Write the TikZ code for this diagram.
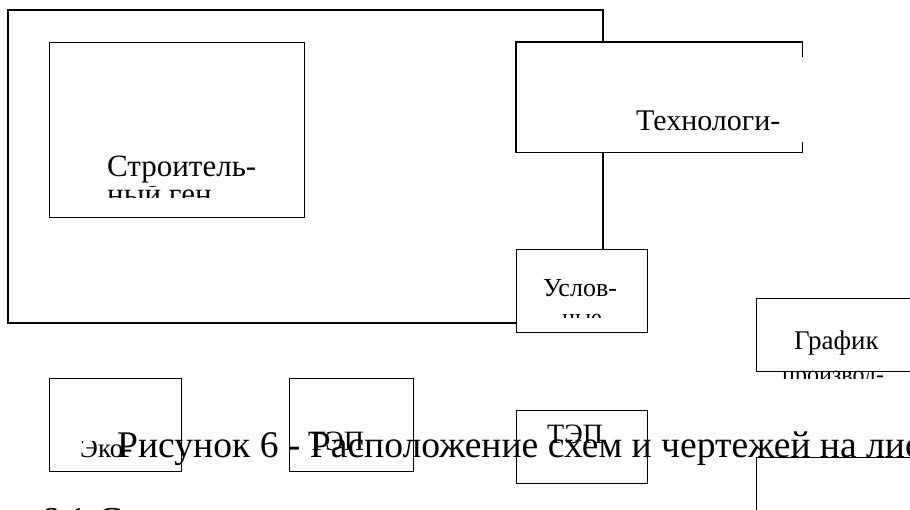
\documentclass[tikz,border=0pt]{standalone}
\usepackage{fontspec}
\setmainfont{Liberation Serif}
\newcommand{\fs}[1]{\fontsize{#1}{1.2\dimexpr#1pt\relax}\selectfont}

\tikzset{
  frame/.style={draw=black, line width=1.3pt},
  sheet/.style={frame, inner sep=0pt, anchor=north west},
  lbl/.style={inner sep=0pt, anchor=base west},
}

\begin{document}
\begin{tikzpicture}[x=1pt,y=-1pt]
	%%%%% START %%%%%
	\clip (0,0) rectangle (910,509);
	
	% sheets on the drawing
	\node[sheet, minimum width=255pt, minimum height=175pt] (stroy) at (49,42) {};
	\node[inner sep=0pt, anchor=north west, minimum width=286pt, minimum height=110pt] (tech) at (516,42) {};
	\node[sheet, minimum width=131pt, minimum height=83pt] (usl) at (516,249) {};
	\node[sheet, minimum width=200pt, minimum height=73pt] (graf) at (756,298) {};
	\node[sheet, minimum width=132pt, minimum height=93pt] (eko) at (49,378) {};
	\node[sheet, minimum width=124pt, minimum height=93pt] (tep) at (289,378) {};
	\node[sheet, minimum width=131pt, minimum height=73pt] (tepb) at (516,410) {};
	\node[sheet, minimum width=200pt, minimum height=100pt] (plan) at (756,457) {};
	
	% outer frame and link
	\coordinate (link) at (603,10);
	\coordinate (corner) at (8,323);
	\draw[frame] (corner -| usl.west) -- (corner) |- (link) -- (link |- tech.north);
	\draw[frame] (link |- tech.south) -- (link |- usl.north);
	\draw[frame] ([yshift=-15pt]tech.north east) -- (tech.north east) -- (tech.north west)
		-- (tech.south west) -- (tech.south east) -- ([yshift=10pt]tech.south east);
	
	% labels
	\node[lbl, font=\fs{31}] (stroyA) at (107,176) {Строитель-};
	\begin{scope}
		\clip (100,186) rectangle (210,197);
		\node[lbl, font=\fs{31}] (stroyB) at (107,204) {ный генплан};
	\end{scope}
	
	\node[lbl, font=\fs{30}] (techA) at (636,130) {Технологи-};
	
	\node[lbl, font=\fs{26}] (uslA) at (543,296) {Услов-};
	\begin{scope}
		\clip (540,313) rectangle (625,317);
		\node[lbl, font=\fs{24}] (uslB) at (562,325) {ные};
	\end{scope}
	
	\node[lbl, font=\fs{27}] (grafA) at (794,349) {График};
	\begin{scope}
		\clip (770,360) rectangle (900,378);
		\node[lbl, font=\fs{24}] (grafB) at (782,382) {производ-};
	\end{scope}
	
	\begin{scope}
		\clip (60,441) rectangle (180,470);
		\node[lbl, font=\fs{27}] (ekoA) at (80,457) {Эко-};
	\end{scope}
	
	\node[lbl, font=\fs{28}] (tepA) at (308,450) {ТЭП};
	\node[lbl, font=\fs{28}] (tepbA) at (547,443) {ТЭП};
	
	% caption and next heading
	\node[lbl, font=\fs{37.6}] (caption) at (117,457) {Рисунок 6 - Расположение схем и чертежей на листе};
	\node[lbl, font=\fs{38}] (heading) at (40,533) {6.1 С};
	%%%%% END %%%%%
\end{tikzpicture}
\end{document}
